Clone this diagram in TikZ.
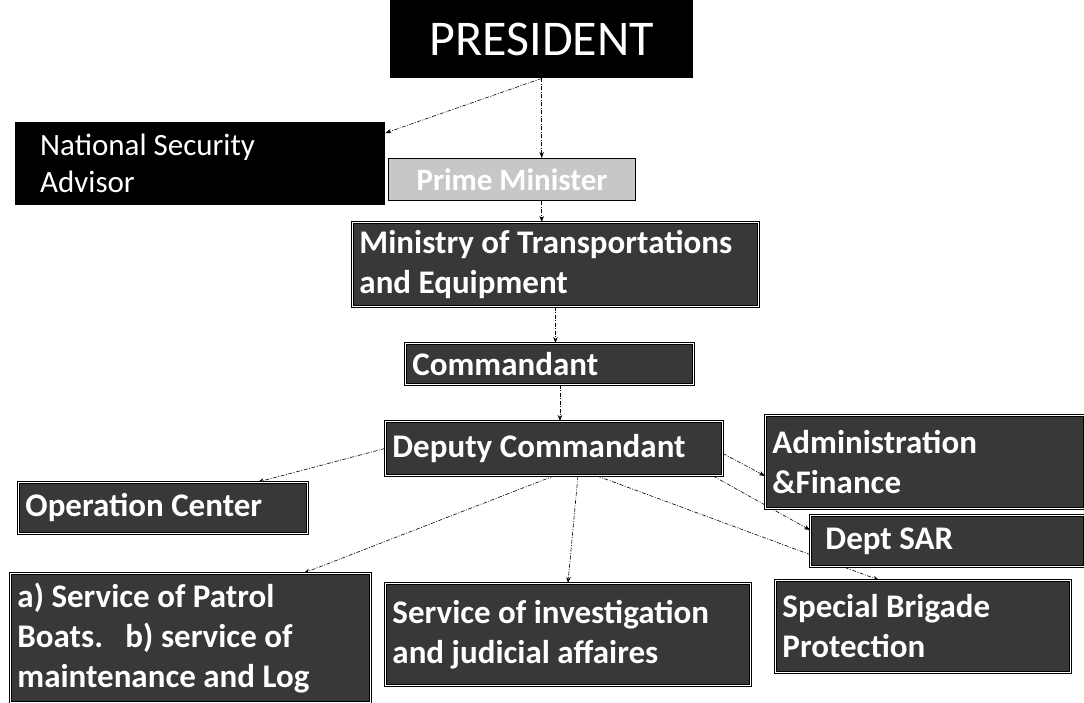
\documentclass[tikz,border=0pt]{standalone}
\usepackage{fontspec}
\setmainfont{Carlito}
\usetikzlibrary{arrows.meta,backgrounds}

\tikzset{
  boss/.style={fill=black, text=white, anchor=north west, inner sep=0pt},
  unit/.style={draw=black, line width=0.9pt, double=white, double distance=1.2pt,
    fill=black!78, text=white, anchor=north west, inner xsep=7pt, inner ysep=0pt,
    align=flush left, font=\bfseries\fontsize{33}{40}\selectfont},
  link/.style={draw=black, line width=0.6pt, dash pattern=on 4pt off 1.5pt on 1pt off 1.5pt,
    -{Stealth[length=6pt,width=4.5pt]}}
}

\begin{document}
\begin{tikzpicture}[x=1pt,y=-1pt]
    \useasboundingbox (0,0) rectangle (1084,702);

    % Top of the chart
    \node[boss, minimum width=303pt, minimum height=78pt, font=\fontsize{50}{54}\selectfont] (pres) at (390,0) {PRESIDENT};
    \node[boss, inner xsep=25pt, text width=320pt, minimum height=83pt, align=flush left, font=\fontsize{31}{37}\selectfont] (nsa) at (15,122) {National Security\\Advisor};
    \node[draw=black, line width=1pt, fill=black!22, text=white, anchor=north west, minimum width=247pt, minimum height=42pt, inner sep=0pt, font=\bfseries\fontsize{31}{32}\selectfont] (pm) at (388,158) {Prime Minister};

    % Chain of command
    \node[unit, text width=392pt, minimum height=84pt] (min) at (352,222) {Ministry of Transportations\\and Equipment};
    \node[unit, text width=274pt, minimum height=41pt] (cmd) at (405,343) {Commandant};
    \node[unit, text width=323pt, minimum height=54pt] (dep) at (385,421) {Deputy Commandant};

    % Units under the deputy
    \node[unit, text width=305pt, minimum height=93pt] (adm) at (765,415) {Administration\\\&Finance};
    \node[unit, text width=275pt, minimum height=51pt] (opc) at (18,482) {Operation Center};
    \node[unit, inner xsep=15pt, text width=244pt, minimum height=51pt] (sar) at (810,515) {Dept SAR};
    \node[unit, text width=346pt, minimum height=129pt] (pat) at (10,573) {a) Service of Patrol\\Boats.\ \ \ b) service of\\maintenance\ and Log};
    \node[unit, text width=351pt, minimum height=102pt] (inv) at (385,583) {Service of investigation\\and judicial affaires};
    \node[unit, text width=281pt, minimum height=92pt] (spb) at (775,580) {Special Brigade\\Protection};

    % Links
    \begin{scope}[on background layer]
        \draw[link] (pres.south) -- (pres.south |- pm.north);
        \draw[link] (pres.south) -- ([yshift=-11pt]nsa.north east);
        \draw[link] (pres.south |- pm.south) -- (pres.south |- min.north);
        \draw[link] (min.south) -- (min.south |- cmd.north);
        \draw[link] ([xshift=6pt]dep.north |- cmd.south) -- ([xshift=6pt]dep.north);
        \draw[link] (dep.west) -- ([xshift=-50pt]opc.north east);
        \draw[link] (dep.south) -- ([xshift=-67pt]pat.north east);
        \draw[link] ([xshift=24pt]dep.south) -- (inv.north);
        \draw[link] ([xshift=43pt]dep.south) -- ([xshift=-44pt]spb.north);
        \draw[link] ([xshift=-10pt]dep.south east) -- ([yshift=-15pt]sar.north west);
        \draw[link] ([yshift=-5pt]dep.east) -- ([yshift=-14pt]adm.west);
    \end{scope}
\end{tikzpicture}
\end{document}
